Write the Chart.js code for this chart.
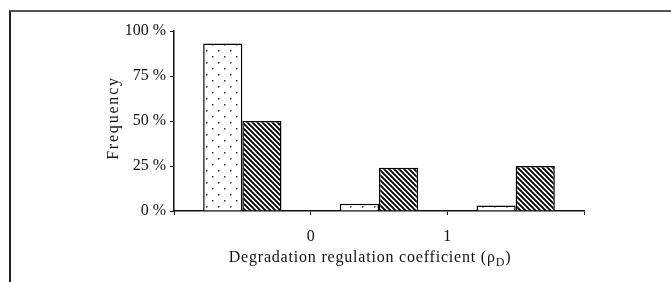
<!DOCTYPE html>
<html>
<head>
<meta charset="utf-8">
<script src="https://cdn.jsdelivr.net/npm/chart.js@4.4.1/dist/chart.umd.min.js"></script>
<style>
    html, body { margin: 0; padding: 0; background: #fff; }
    #wrap { position: relative; width: 671px; height: 282px; overflow: hidden; }
    #frame { position: absolute; left: 9px; top: 10px; right: -4px; bottom: -4px; border-top: 2px solid #555; border-left: 2px solid #222; }
    #chart { position: absolute; left: 0; top: 0; }
</style>
</head>
<body>
<div id="wrap">
    <div id="frame"></div>
    <canvas id="chart" width="671" height="282"></canvas>
</div>
<script>
// three groups: below 0, between 0 and 1, above 1
const groupLabels = ['< 0', '0 - 1', '> 1'];
const groupPositions = [-0.5, 0.5, 1.5];
const dottedValues = [93, 4, 3];
const hatchedValues = [50, 24, 25];
const xTickValues = [0, 1];
const xTickLabels = ['0', '1'];
const yTickValues = [0, 25, 50, 75, 100];

const serif = '"Liberation Serif", "Times New Roman", serif';

function makeDots() {
    const c = document.createElement('canvas');
    c.width = 12;
    c.height = 12;
    const g = c.getContext('2d');
    g.fillStyle = '#fff';
    g.fillRect(0, 0, 12, 12);
    g.fillStyle = '#333';
    g.fillRect(2, 2, 1.5, 1.5);
    g.fillRect(8, 8, 1.5, 1.5);
    return g.createPattern(c, 'repeat');
}

function makeHatch() {
    const s = 5;
    const c = document.createElement('canvas');
    c.width = s;
    c.height = s;
    const g = c.getContext('2d');
    g.fillStyle = '#fff';
    g.fillRect(0, 0, s, s);
    g.strokeStyle = '#000';
    g.lineWidth = 1.9;
    g.beginPath();
    for (const k of [-s, 0, s]) {
        g.moveTo(k - 1, -1);
        g.lineTo(k + s + 1, s + 1);
    }
    g.stroke();
    return g.createPattern(c, 'repeat');
}

const axisTitles = {
    id: 'axisTitles',
    afterDraw(chart) {
        const ctx = chart.ctx;
        const area = chart.chartArea;
        ctx.save();
        ctx.fillStyle = '#111';

        // y title, a bit spaced out like the original
        ctx.font = '16px ' + serif;
        ctx.letterSpacing = '1.8px';
        ctx.textAlign = 'center';
        ctx.textBaseline = 'middle';
        ctx.translate(area.left - 60, (area.top + area.bottom) / 2 - 3);
        ctx.rotate(-Math.PI / 2);
        ctx.fillText('Frequency', 0, 0);
        ctx.setTransform(1, 0, 0, 1, 0, 0);

        // x title with subscript D
        const main = 'Degradation regulation coefficient (ρ';
        const sub = 'D';
        const end = ')';
        ctx.letterSpacing = '0.8px';
        ctx.textAlign = 'left';
        ctx.textBaseline = 'alphabetic';
        ctx.font = '16px ' + serif;
        const w1 = ctx.measureText(main).width;
        const w3 = ctx.measureText(end).width;
        ctx.font = '12px ' + serif;
        const w2 = ctx.measureText(sub).width;
        const cx = (area.left + area.right) / 2 - 9;
        const base = area.bottom + 51;
        let x = cx - (w1 + w2 + w3) / 2;
        ctx.font = '16px ' + serif;
        ctx.fillText(main, x, base);
        x += w1;
        ctx.font = '12px ' + serif;
        ctx.fillText(sub, x, base + 4);
        x += w2;
        ctx.font = '16px ' + serif;
        ctx.fillText(end, x, base);
        ctx.restore();
    }
};

new Chart(document.getElementById('chart'), {
    type: 'bar',
    data: {
        datasets: [
            {
                label: 'dotted',
                data: groupPositions.map((x, i) => ({x: x, y: dottedValues[i], g: groupLabels[i]})),
                backgroundColor: makeDots(),
                borderColor: '#000',
                borderWidth: 1.5,
                categoryPercentage: 0.573,
                barPercentage: 1
            },
            {
                label: 'hatched',
                data: groupPositions.map((x, i) => ({x: x, y: hatchedValues[i], g: groupLabels[i]})),
                backgroundColor: makeHatch(),
                borderColor: '#000',
                borderWidth: 1.5,
                categoryPercentage: 0.573,
                barPercentage: 1
            }
        ]
    },
    options: {
        responsive: false,
        animation: false,
        layout: {padding: {left: 0, top: 31, right: 87, bottom: 0}},
        plugins: {legend: {display: false}, tooltip: {enabled: false}},
        scales: {
            x: {
                type: 'linear',
                min: -1,
                max: 2,
                offset: false,
                afterBuildTicks: (scale) => {
                    scale.ticks = [-1, 0, 1, 2].map(v => ({value: v}));
                },
                afterFit: (scale) => { scale.height = 71; },
                border: {display: true, color: '#111', width: 1.5},
                grid: {drawOnChartArea: false, drawTicks: true, tickLength: 4, color: '#111', offset: false},
                ticks: {
                    padding: 12,
                    color: '#111',
                    font: {family: serif, size: 16},
                    maxRotation: 0,
                    autoSkip: false,
                    callback: (v) => {
                        const i = xTickValues.indexOf(v);
                        return i >= 0 ? xTickLabels[i] : '';
                    }
                }
            },
            y: {
                min: 0,
                max: 100,
                afterBuildTicks: (scale) => {
                    scale.ticks = yTickValues.map(v => ({value: v}));
                },
                afterFit: (scale) => { scale.width = 174; },
                border: {display: true, color: '#111', width: 1.5},
                grid: {drawOnChartArea: false, drawTicks: true, tickLength: 4, color: '#111'},
                ticks: {
                    padding: 4,
                    color: '#111',
                    font: {family: serif, size: 16},
                    callback: (v) => v + ' %'
                }
            }
        }
    },
    plugins: [axisTitles]
});
</script>
</body>
</html>
